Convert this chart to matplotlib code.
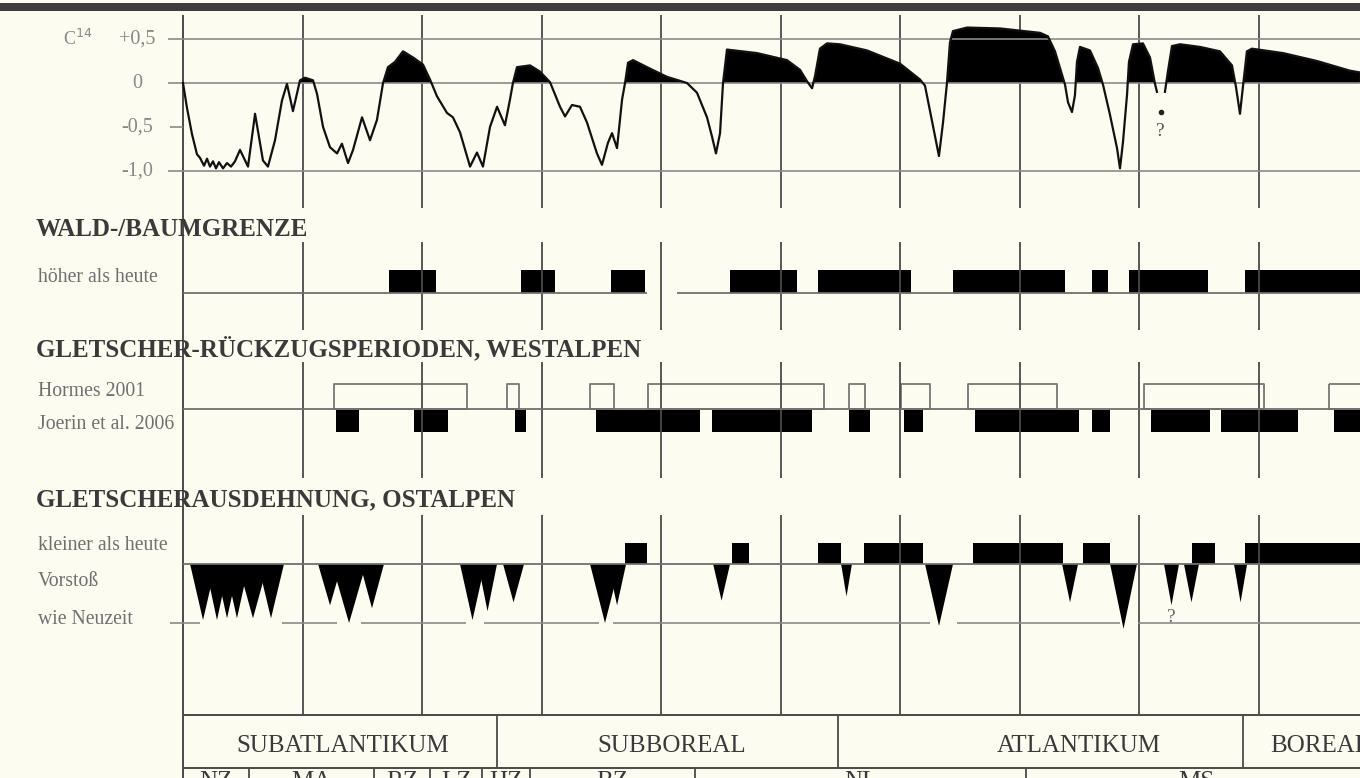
import numpy as np
import matplotlib
matplotlib.use("Agg")
import matplotlib.pyplot as plt
from matplotlib.patches import Rectangle

# ---------------- data (years before present) ----------------
curve_years = [0, 33, 75, 117, 142, 176, 201, 226, 251, 276, 301, 335, 368, 402, 435,
               477, 544, 603, 669, 711, 770, 828, 870, 920, 979, 1021, 1088, 1121, 1172,
               1230, 1289, 1330, 1381, 1423, 1498, 1565, 1623, 1674, 1715, 1774, 1841,
               1925, 2008, 2067, 2125, 2209, 2259, 2318, 2402, 2460, 2510, 2569, 2628,
               2694, 2736, 2761, 2795, 2904, 2987, 3071, 3155, 3197, 3255, 3322, 3381,
               3464, 3506, 3556, 3590, 3632, 3674, 3699, 3724, 3766, 3883, 4050, 4217,
               4301, 4385, 4427, 4460, 4494, 4519, 4552, 4803, 5054, 5163, 5222, 5264,
               5289, 5330, 5389, 5498, 5724, 5891, 6000, 6167, 6209, 6276, 6326, 6360,
               6393, 6418, 6443, 6561, 6837, 7172, 7238, 7297, 7356, 7381, 7406, 7439,
               7464, 7481, 7506, 7590, 7657, 7699, 7757, 7816, 7841, 7866, 7900, 7916,
               7950, 8033, 8092, 8134, 8150, np.nan,
               8217, 8243, 8276, 8343, 8510, 8677, 8778, 8811, 8845, 8870, 8903, 8945,
               9205, 9489, 9765, 9849]
curve_values = [0.0, -0.28, -0.58, -0.81, -0.85, -0.94, -0.86, -0.95, -0.89, -0.97, -0.90,
                -0.97, -0.91, -0.95, -0.89, -0.76, -0.95, -0.35, -0.88, -0.95, -0.65, -0.20,
                -0.01, -0.32, 0.03, 0.06, 0.03, -0.12, -0.50, -0.73, -0.80, -0.69, -0.91,
                -0.76, -0.39, -0.65, -0.42, 0.0, 0.18, 0.24, 0.36, 0.29, 0.21, 0.04, -0.15,
                -0.34, -0.39, -0.56, -0.95, -0.79, -0.95, -0.50, -0.27, -0.48, -0.19, 0.0,
                0.18, 0.20, 0.13, 0.01, -0.27, -0.38, -0.25, -0.27, -0.45, -0.80, -0.93,
                -0.68, -0.57, -0.74, -0.19, 0.0, 0.23, 0.26, 0.18, 0.07, 0.0, -0.11, -0.39,
                -0.61, -0.80, -0.57, 0.0, 0.38, 0.34, 0.26, 0.15, 0.02, -0.06, 0.08, 0.39,
                0.45, 0.44, 0.37, 0.28, 0.22, 0.04, -0.03, -0.49, -0.83, -0.45, 0.0, 0.46,
                0.59, 0.63, 0.62, 0.57, 0.53, 0.36, 0.09, -0.02, -0.22, -0.33, -0.14, 0.24,
                0.41, 0.37, 0.17, -0.02, -0.36, -0.74, -0.97, -0.67, -0.13, 0.24, 0.44,
                0.45, 0.29, -0.01, -0.10, np.nan,
                -0.10, 0.14, 0.42, 0.44, 0.41, 0.36, 0.20, -0.04, -0.35, -0.04, 0.36, 0.39,
                0.34, 0.25, 0.14, 0.12]
curve_ticks = [0.5, 0.0, -0.5, -1.0]
curve_tick_labels = ["+0,5", "0", "-0,5", "-1,0"]

treeline_higher = [(1720, 2120), (2830, 3110), (3580, 3870), (4580, 5140), (5310, 6090),
                   (6440, 7380), (7610, 7740), (7920, 8580), (8890, 9900)]
hormes_retreat = [(1260, 2380), (2710, 2810), (3410, 3610), (3890, 5360), (5570, 5710),
                  (6010, 6250), (6570, 7310), (8040, 9050), (9590, 9900)]
joerin_retreat = [(1280, 1470), (1930, 2220), (2780, 2870), (3460, 4330), (4430, 5260),
                  (5570, 5750), (6030, 6190), (6630, 7500), (7610, 7760), (8100, 8590),
                  (8690, 9330), (9630, 9900)]
ost_smaller = [(3700, 3880), (4590, 4740), (5310, 5510), (5700, 6190), (6610, 7360),
               (7530, 7760), (8440, 8640), (8890, 9900)]
# (start, end, relative advance; 1.0 = "wie Neuzeit")
ost_advance = [(59, 276, 0.95), (184, 385, 0.95), (268, 469, 0.92), (351, 552, 0.92),
               (460, 711, 0.92), (628, 845, 0.92),
               (1130, 1331, 0.70), (1247, 1532, 1.0), (1481, 1682, 0.75),
               (2318, 2527, 0.95), (2469, 2628, 0.80), (2678, 2854, 0.65),
               (3406, 3657, 1.0), (3557, 3708, 0.70),
               (4436, 4578, 0.62), (5507, 5598, 0.55), (6209, 6444, 1.05),
               (7356, 7490, 0.65), (7758, 7983, 1.10), (8209, 8335, 0.70),
               (8376, 8502, 0.65), (8795, 8905, 0.65)]

periods = ["SUBATLANTIKUM", "SUBBOREAL", "ATLANTIKUM", "BOREAL"]
period_bounds = [0, 2630, 5480, 8870, 9900]
cultures = ["NZ", "MA", "RZ", "LZ", "HZ", "BZ", "NL", "MS"]
culture_bounds = [0, 552, 1598, 2067, 2502, 2900, 4284, 7054, 9900]

# ---------------- layout (pixels) ----------------
W, H = 1360, 778
X0 = 183.0
PX_PER_KYR = 119.5
ZERO_PX = 83.0
PX_PER_UNIT = 88.0

def px2yr(px):
    return (px - X0) / PX_PER_KYR * 1000.0

plt.rcParams['font.family'] = ['Liberation Serif', 'DejaVu Serif']
fig = plt.figure(figsize=(W / 100, H / 100), dpi=100)
fig.patch.set_facecolor('#fdfcf0')

ax = fig.add_axes([0, 0, 1, 1])
ax.set_xlim(px2yr(0), px2yr(W))
ax.set_ylim(H, 0)
ax.axis('off')

axc = fig.add_axes([0, 0, 1, 1], sharex=ax)
axc.set_ylim((ZERO_PX - H) / PX_PER_UNIT, ZERO_PX / PX_PER_UNIT)
axc.axis('off')
axc.patch.set_alpha(0)

GRID = '#4a4a4a'
LINE = '#707070'
TXT_H = '#3a3a3a'
TXT_S = '#707070'
FS_HEAD = 18
FS_SMALL = 14.2
FS_TABLE = 18

# top dark band
ax.add_patch(Rectangle((px2yr(0), 3), px2yr(W) - px2yr(0), 8, color='#3d3d3d', lw=0))

# vertical grid lines
xmax = px2yr(W)
for k in range(1000, 10000, 1000):
    for (y0, y1) in [(15, 208), (242, 330), (362, 478), (515, 715)]:
        ax.vlines(k, y0, y1, color=GRID, lw=1.3)
ax.vlines(0, 15, H, color=GRID, lw=1.4)

# ---------- curve panel ----------
for v in [0.5, 0.0, -1.0]:
    axc.hlines(v, px2yr(168), xmax, color='#8a8a8a', lw=1.2)
axc.hlines(-0.5, px2yr(170), 0, color='#8a8a8a', lw=1.2)
cy = np.array(curve_years, dtype=float)
cv = np.array(curve_values, dtype=float)
gap = np.where(np.isnan(cy))[0]
segs = np.split(np.arange(len(cy)), gap)
for idx in segs:
    idx = idx[~np.isnan(cy[idx])]
    xs, vs = cy[idx], cv[idx]
    axc.fill_between(xs, vs, 0, where=vs > 0, interpolate=True, color='black', lw=0)
    axc.plot(xs, vs, color='#111111', lw=1.6, solid_joinstyle='round')
axc.plot([8180], [-0.33], 'o', color='#222', ms=3)
axc.text(8180, -0.55, "?", ha='center', va='center', fontsize=14, color='#555')

axc.text(px2yr(78), 0.5, "C$^{14}$", ha='center', va='center', fontsize=13, color='#888')
for v, lbl in zip(curve_ticks, curve_tick_labels):
    axc.text(px2yr(137), v, lbl, ha='center', va='center', fontsize=14.5, color='#888')

# ---------- Wald / Baumgrenze ----------
WALD_BASE = 293
ax.text(px2yr(36), 229, "WALD-/BAUMGRENZE", fontsize=FS_HEAD, color=TXT_H,
        va='center', fontweight='bold')
ax.text(px2yr(38), 277, "höher als heute", fontsize=FS_SMALL, color=TXT_S, va='center')
ax.hlines(WALD_BASE, 0, 3880, color=LINE, lw=1.3)
ax.hlines(WALD_BASE, 4130, xmax, color=LINE, lw=1.3)
ax.broken_barh([(s, e - s) for s, e in treeline_higher], (WALD_BASE - 23, 23),
               facecolors='black')

# ---------- Gletscher-Rückzug Westalpen ----------
WEST_BASE = 409
ax.text(px2yr(36), 349, "GLETSCHER-RÜCKZUGSPERIODEN, WESTALPEN", fontsize=FS_HEAD,
        color=TXT_H, va='center', fontweight='bold')
ax.text(px2yr(38), 391, "Hormes 2001", fontsize=FS_SMALL, color=TXT_S, va='center')
ax.text(px2yr(38), 424, "Joerin et al. 2006", fontsize=FS_SMALL, color=TXT_S, va='center')
ax.hlines(WEST_BASE, 0, xmax, color=LINE, lw=1.3)
ax.broken_barh([(s, e - s) for s, e in hormes_retreat], (WEST_BASE - 25, 25),
               facecolors='none', edgecolors='#777777', lw=1.3)
ax.broken_barh([(s, e - s) for s, e in joerin_retreat], (WEST_BASE + 1, 22),
               facecolors='black')

# ---------- Gletscherausdehnung Ostalpen ----------
OST_BASE = 564
OST_DEPTH = 59
ax.text(px2yr(36), 500, "GLETSCHERAUSDEHNUNG, OSTALPEN", fontsize=FS_HEAD, color=TXT_H,
        va='center', fontweight='bold')
ax.text(px2yr(38), 546, "kleiner als heute", fontsize=FS_SMALL, color=TXT_S, va='center')
ax.text(px2yr(38), 582, "Vorstoß", fontsize=FS_SMALL, color=TXT_S, va='center')
ax.text(px2yr(38), 620, "wie Neuzeit", fontsize=FS_SMALL, color=TXT_S, va='center')
ax.hlines(OST_BASE, 0, xmax, color=LINE, lw=1.3)
for (a, b) in [(-110, 140), (830, 1290), (1490, 2370), (2520, 3480), (3600, 6250),
               (6480, 7840), (7990, 9900)]:
    ax.hlines(OST_BASE + OST_DEPTH, a, b, color='#8a8a8a', lw=1.2)
ax.broken_barh([(s, e - s) for s, e in ost_smaller], (OST_BASE - 21, 21),
               facecolors='black')
for (s, e, d) in ost_advance:
    ax.fill([s, (s + e) / 2, e], [OST_BASE, OST_BASE + d * OST_DEPTH, OST_BASE],
            color='black', lw=0)
ax.text(8270, 618, "?", ha='center', va='center', fontsize=14, color='#666')

# ---------- period table ----------
T_TOP, T_MID = 715, 768
ax.hlines(T_TOP, 0, xmax, color=GRID, lw=1.4)
ax.hlines(T_MID, 0, xmax, color=GRID, lw=1.4)
for b in period_bounds[1:-1]:
    ax.vlines(b, T_TOP, T_MID, color=GRID, lw=1.3)
label_px = [343, 672, 1079, None]
for i, name in enumerate(periods):
    if label_px[i] is not None:
        ax.text(px2yr(label_px[i]), 746, name, ha='center', va='center',
                fontsize=FS_TABLE, color=TXT_H)
    else:
        ax.text(px2yr(1270), 746, name, ha='left', va='center', fontsize=FS_TABLE,
                color=TXT_H)
for b in culture_bounds[1:-1]:
    ax.vlines(b, T_MID, H, color=GRID, lw=1.3)
for i, name in enumerate(cultures):
    c = (culture_bounds[i] + culture_bounds[i + 1]) / 2
    ax.text(c, 788, name, ha='center', va='baseline', fontsize=FS_TABLE, color=TXT_H)

fig.savefig("out.png", dpi=100, facecolor=fig.get_facecolor())
